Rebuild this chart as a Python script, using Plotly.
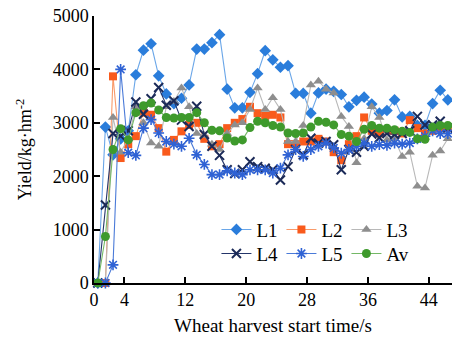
import plotly.graph_objects as go

# Time axis (s)
time_s = [0.5, 1.5, 2.5, 3.5, 4.5, 5.5, 6.5, 7.5, 8.5, 9.5,
          10.5, 11.5, 12.5, 13.5, 14.5, 15.5, 16.5, 17.5, 18.5, 19.5,
          20.5, 21.5, 22.5, 23.5, 24.5, 25.5, 26.5, 27.5, 28.5, 29.5,
          30.5, 31.5, 32.5, 33.5, 34.5, 35.5, 36.5, 37.5, 38.5, 39.5,
          40.5, 41.5, 42.5, 43.5, 44.5, 45.5, 46.5]

L1 = [0, 2920, 2400, 2700, 2850, 3900, 4360, 4480, 3880, 3540,
      3360, 3460, 3710, 4380, 4380, 4500, 4650, 3630, 3280, 3280,
      3570, 3920, 4350, 4180, 4040, 4070, 3550, 3550, 3180, 3560,
      3630, 3590, 3530, 3300, 3420, 3480, 3350, 3180, 3230, 3430,
      3110, 3120, 2950, 2950, 3360, 3610, 3430]
L2 = [0, 0, 3870, 2340, 2600, 2750, 3190, 3150, 2900, 2460,
      2680, 2840, 2960, 3000, 2700, 2560, 2600, 2900, 3000, 3070,
      3300, 3180, 3130, 3150, 3100, 2600, 2600, 2650, 2650, 2700,
      2650, 2450, 2300, 2600, 2750, 3100, 2850, 2800, 2850, 2850,
      2800, 3050, 2900, 2800, 2850, 2900, 2900]
L3 = [0, 0, 3100, 2450, 2700, 3300, 3000, 2620, 2560, 3300,
      3400, 3650, 3300, 2800, 2760, 2600, 2500, 2800, 2960, 3000,
      3250, 3650, 3250, 3470, 3250, 2650, 2650, 2950, 3710, 3780,
      3630, 3560, 3120, 2930, 2250, 2700, 3300, 3100, 2680, 2700,
      2370, 2450, 1810, 1780, 2390, 2470, 2700]
L4 = [0, 1460, 2800, 2750, 2850, 3390, 3160, 3450, 3660, 3330,
      3410, 3050, 2930, 3310, 2780, 2560, 2390, 2120, 2050, 2120,
      2270, 2180, 2150, 2120, 1930, 2180, 2500, 2400, 2710, 2620,
      2650, 2590, 2120, 2500, 2450, 2560, 2790, 2720, 2800, 2780,
      2800, 2850, 3120, 2960, 2960, 3030, 2900]
L5 = [0, 0, 340, 4000, 2440, 2390, 2900, 3060, 2810, 2650,
      2600, 2560, 2710, 2400, 2220, 2030, 2030, 2100, 2060, 2030,
      2120, 2120, 2120, 2060, 2150, 2400, 2500, 2370, 2500, 2560,
      2620, 2530, 2430, 2500, 2560, 2620, 2560, 2590, 2580, 2620,
      2600, 2620, 2700, 2750, 2850, 2800, 2800]
Av = [0, 870, 2500, 2890, 2680, 3190, 3320, 3370, 3240, 3100,
      3090, 3100, 3100, 3190, 3000, 2860, 2850, 2715, 2660, 2680,
      2910, 3030, 3000, 2950, 2920, 2810, 2800, 2810, 2920, 3030,
      3010, 2960, 2780, 2750, 2650, 2880, 2950, 2900, 2900, 2870,
      2840, 2820, 2700, 2690, 2920, 2950, 2950]

x_ticks = [0, 4, 12, 20, 28, 36, 44]
y_ticks = [0, 1000, 2000, 3000, 4000, 5000]

FONT = "Liberation Serif"

styles = [
    ("L1", L1, dict(symbol="diamond", size=9, color="#2a7ddb"), "#6aa6e8", "legend"),
    ("L2", L2, dict(symbol="square", size=8, color="#f95a1c"), "#f99a6a", "legend"),
    ("L3", L3, dict(symbol="triangle-up", size=9, color="#8e8e8e"), "#b8b8b8", "legend"),
    ("L4", L4, dict(symbol="x-thin-open", size=9, color="#1b2a58",
                    line=dict(width=2, color="#1b2a58")), "#24356a", "legend2"),
    ("L5", L5, dict(symbol="asterisk-open", size=9, color="#2f62d4",
                    line=dict(width=1.6, color="#2f62d4")), "#4a7ad8", "legend2"),
    ("Av", Av, dict(symbol="circle", size=9, color="#3e9a2c"), "#74b866", "legend2"),
]

fig = go.Figure()
for name, vals, mk, lc, lg in styles:
    fig.add_trace(go.Scatter(
        x=time_s, y=vals, name=name, mode="lines+markers",
        line=dict(color=lc, width=1.1), marker=mk,
        cliponaxis=False, legend=lg,
    ))

leg_common = dict(orientation="h", xanchor="left", yanchor="middle",
                  entrywidth=20, entrywidthmode="pixels",
                  font=dict(family=FONT, size=19, color="black"),
                  bgcolor="rgba(0,0,0,0)", borderwidth=0, tracegroupgap=0)

fig.update_layout(
    width=452, height=338,
    margin=dict(l=94, r=0, t=16, b=55),
    paper_bgcolor="white", plot_bgcolor="white",
    font=dict(family=FONT, size=18, color="black"),
    legend=dict(x=0.342, y=0.2, **leg_common),
    legend2=dict(x=0.342, y=0.11, **leg_common),
    xaxis=dict(range=[0, 47.05], tickvals=x_ticks, ticks="inside", ticklen=6,
               tickwidth=1.5, tickcolor="black", showline=True, linewidth=1.5,
               linecolor="black", showgrid=False, zeroline=False,
               tickfont=dict(family=FONT, size=18),
               title=dict(text="Wheat harvest start time/s", standoff=9,
                          font=dict(family=FONT, size=19))),
    yaxis=dict(range=[0, 5000], tickvals=y_ticks, ticks="inside", ticklen=6,
               tickwidth=1.5, tickcolor="black", showline=True, linewidth=1.5,
               linecolor="black", showgrid=False, zeroline=False,
               tickfont=dict(family=FONT, size=18),
               title=dict(text="Yield/kg·hm<sup>-2</sup>", standoff=16,
                          font=dict(family=FONT, size=18))),
)

fig.write_html("out.html")
